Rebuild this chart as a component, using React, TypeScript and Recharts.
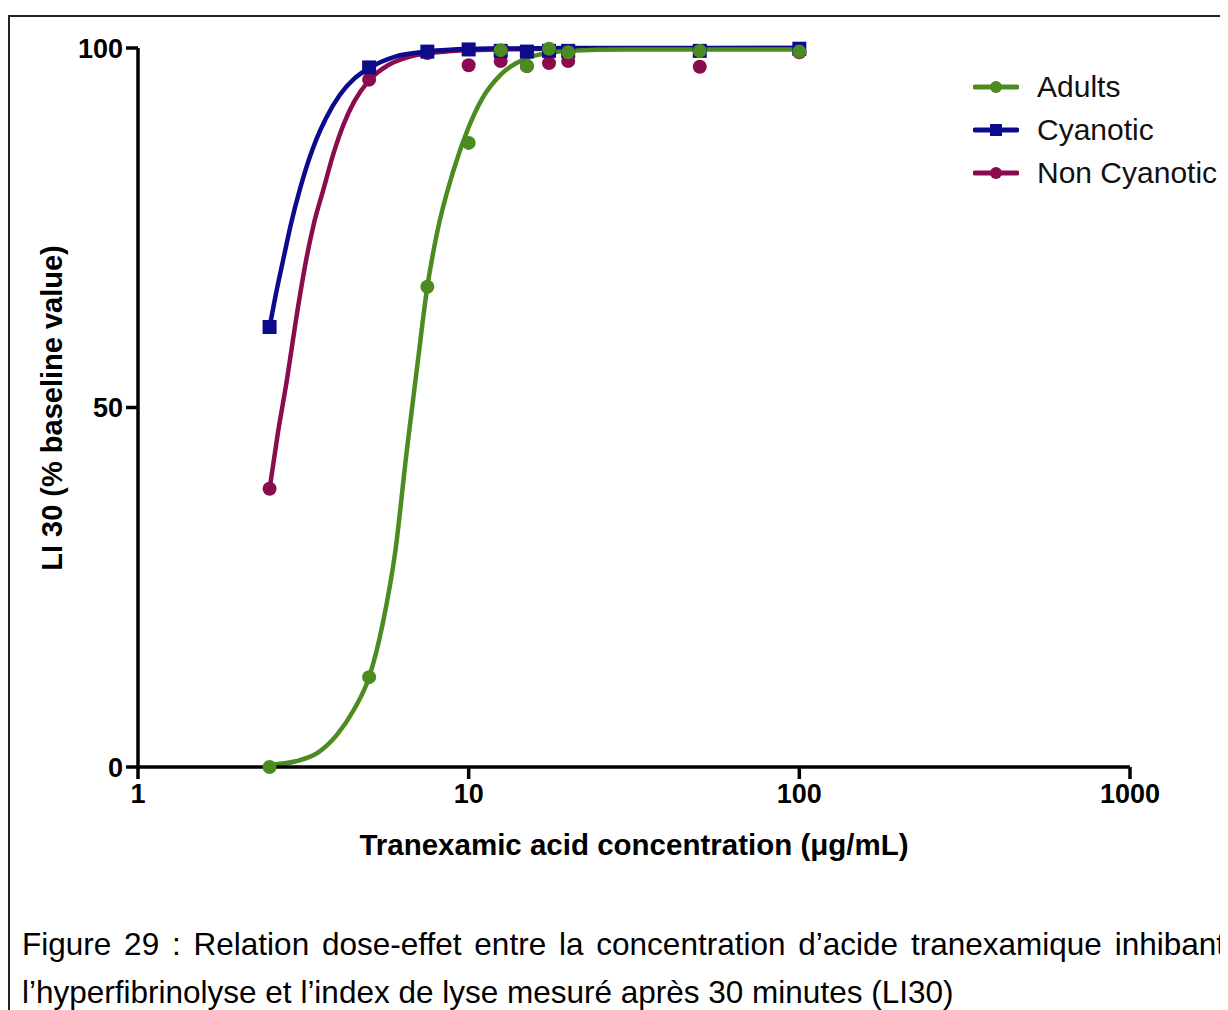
import React from 'react';
import { ComposedChart, Line, Scatter, XAxis, YAxis } from 'recharts';

if (typeof document !== 'undefined') {
  document.body.style.overflow = 'hidden';
}

const FONT = '"Liberation Sans", Arial, Helvetica, sans-serif';

const xTicks = [1, 10, 100, 1000];
const yTicks = [0, 50, 100];

// measured points (concentration in µg/mL, LI30 %)
const adultsPts = [
  { x: 2.5, y: 0 }, { x: 5, y: 12.5 }, { x: 7.5, y: 66.8 }, { x: 10, y: 86.8 },
  { x: 12.5, y: 99.7 }, { x: 15, y: 97.5 }, { x: 17.5, y: 99.9 }, { x: 20, y: 99.4 },
  { x: 50, y: 99.6 }, { x: 100, y: 99.5 },
];
const cyanoticPts = [
  { x: 2.5, y: 61.2 }, { x: 5, y: 97.3 }, { x: 7.5, y: 99.5 }, { x: 10, y: 99.8 },
  { x: 12.5, y: 99.6 }, { x: 15, y: 99.5 }, { x: 17.5, y: 99.6 }, { x: 20, y: 99.6 },
  { x: 50, y: 99.6 }, { x: 100, y: 99.9 },
];
const nonCyanoticPts = [
  { x: 2.5, y: 38.7 }, { x: 5, y: 95.6 }, { x: 7.5, y: 99.3 }, { x: 10, y: 97.6 },
  { x: 12.5, y: 98.2 }, { x: 15, y: 97.5 }, { x: 17.5, y: 97.9 }, { x: 20, y: 98.2 },
  { x: 50, y: 97.4 }, { x: 100, y: 99.4 },
];

// fitted curves
const adultsFit = [
  { x: 2.5, y: 0.3 }, { x: 3, y: 0.8 }, { x: 3.5, y: 2 }, { x: 4, y: 4.5 }, { x: 4.5, y: 8 },
  { x: 5, y: 12.5 }, { x: 5.5, y: 20 }, { x: 6, y: 30 }, { x: 6.5, y: 44 }, { x: 7, y: 56 },
  { x: 7.5, y: 66.8 }, { x: 8, y: 74 }, { x: 9, y: 83 }, { x: 10, y: 89 }, { x: 11, y: 93 },
  { x: 12.5, y: 96.3 }, { x: 15, y: 98.6 }, { x: 17.5, y: 99.3 }, { x: 20, y: 99.6 },
  { x: 30, y: 99.8 }, { x: 50, y: 99.8 }, { x: 100, y: 99.8 },
];
const cyanoticFit = [
  { x: 2.5, y: 61.2 }, { x: 2.6, y: 65.3 }, { x: 2.75, y: 70.6 }, { x: 2.9, y: 75.5 },
  { x: 3.09, y: 80.4 }, { x: 3.3, y: 84.7 }, { x: 3.47, y: 87.4 }, { x: 3.7, y: 90.2 },
  { x: 4.08, y: 93.5 }, { x: 4.5, y: 95.7 }, { x: 5, y: 97.2 }, { x: 6, y: 98.8 },
  { x: 7.5, y: 99.5 }, { x: 10, y: 99.85 }, { x: 20, y: 100 }, { x: 50, y: 100 }, { x: 100, y: 100 },
];
const nonCyanoticFit = [
  { x: 2.5, y: 38.7 }, { x: 2.65, y: 46.5 }, { x: 2.82, y: 53.8 }, { x: 3, y: 62 },
  { x: 3.24, y: 71 }, { x: 3.4, y: 75.5 }, { x: 3.63, y: 80.2 }, { x: 3.9, y: 85.3 },
  { x: 4.18, y: 89.3 }, { x: 4.5, y: 92.5 }, { x: 5, y: 95.5 }, { x: 5.7, y: 97.6 },
  { x: 6.64, y: 98.8 }, { x: 8, y: 99.4 }, { x: 10, y: 99.7 }, { x: 20, y: 99.9 }, { x: 100, y: 100 },
];

const series = [
  { name: 'Adults', color: '#4b8b1f', marker: 'circle', pts: adultsPts, fit: adultsFit },
  { name: 'Cyanotic', color: '#0b0b8c', marker: 'square', pts: cyanoticPts, fit: cyanoticFit },
  { name: 'Non Cyanotic', color: '#8a0c4e', marker: 'circle', pts: nonCyanoticPts, fit: nonCyanoticFit },
];
// back to front
const drawOrder = [2, 1, 0];

const marker = (kind: string, color: string, cx: number, cy: number, s = 7) =>
  kind === 'square'
    ? <rect x={cx - s} y={cy - s} width={s * 2} height={s * 2} fill={color} />
    : <circle cx={cx} cy={cy} r={s} fill={color} />;

const LegendBox = () => (
  <div style={{ position: 'absolute', left: 965, top: 57, display: 'flex', flexDirection: 'column', fontFamily: FONT }}>
    {series.map((s) => (
      <div key={s.name} style={{ height: 43, display: 'flex', alignItems: 'center', whiteSpace: 'nowrap' }}>
        <svg width={46} height={20}>
          <line x1={2} y1={10} x2={44} y2={10} stroke={s.color} strokeWidth={5} strokeLinecap="round" />
          {marker(s.marker, s.color, 23, 10, 6)}
        </svg>
        <span style={{ marginLeft: 18, fontSize: 30, color: '#111' }}>{s.name}</span>
      </div>
    ))}
  </div>
);

export default function App() {
  const axisStroke = { stroke: '#000', strokeWidth: 3.5 };
  const tickStyle = { fill: '#000', fontSize: 27, fontWeight: 700, fontFamily: FONT };
  return (
    <div style={{ position: 'relative', width: 1220, height: 1002, background: '#fff' }}>
      <div style={{ position: 'absolute', left: 0, top: 7, right: 0, bottom: -20, borderLeft: '2px solid #222', borderTop: '2px solid #222' }} />
      <ComposedChart
        width={1220}
        height={880}
        margin={{ top: 40, right: 98, bottom: 0, left: 0 }}
        style={{ position: 'absolute', left: 0, top: 0 }}
      >
        <XAxis
          dataKey="x"
          type="number"
          scale="log"
          domain={[1, 1000]}
          ticks={xTicks}
          allowDataOverflow
          height={121}
          axisLine={axisStroke}
          tickLine={axisStroke}
          tickSize={12}
          tickMargin={5}
          tick={tickStyle}
        />
        <YAxis
          dataKey="y"
          type="number"
          domain={[0, 100]}
          ticks={yTicks}
          width={130}
          axisLine={axisStroke}
          tickLine={axisStroke}
          tickSize={12}
          tickMargin={3}
          tick={tickStyle}
        />
        {drawOrder.map((i) => (
          <Line
            key={'fit' + i}
            data={series[i].fit}
            dataKey="y"
            type="monotone"
            stroke={series[i].color}
            strokeWidth={4.5}
            dot={false}
            activeDot={false}
            isAnimationActive={false}
          />
        ))}
        {drawOrder.map((i) => (
          <Scatter
            key={'pts' + i}
            data={series[i].pts}
            dataKey="y"
            isAnimationActive={false}
            shape={(p: any) => marker(series[i].marker, series[i].color, p.cx, p.cy)}
          />
        ))}
      </ComposedChart>
      <LegendBox />
      <div
        style={{
          position: 'absolute', left: 44, top: 400, transform: 'translate(-50%, -50%) rotate(-90deg)',
          whiteSpace: 'nowrap', fontFamily: FONT, fontWeight: 700, fontSize: 29, color: '#000',
        }}
      >
        LI 30 (% baseline value)
      </div>
      <div
        style={{
          position: 'absolute', left: 626, top: 837, transform: 'translate(-50%, -50%)',
          whiteSpace: 'nowrap', fontFamily: FONT, fontWeight: 700, fontSize: 29.5, color: '#000',
        }}
      >
        Tranexamic acid concentration (μg/mL)
      </div>
      <div
        style={{
          position: 'absolute', left: 14, top: 918, width: 1203, fontFamily: FONT, fontSize: 31.5,
          lineHeight: '36px', textAlign: 'justify', textAlignLast: 'justify', color: '#000', whiteSpace: 'nowrap',
        }}
      >
        Figure 29 : Relation dose-effet entre la concentration d’acide tranexamique inhibant
      </div>
      <div
        style={{
          position: 'absolute', left: 14, top: 966, whiteSpace: 'nowrap', fontFamily: FONT, fontSize: 31.5,
          lineHeight: '36px', color: '#000',
        }}
      >
        l’hyperfibrinolyse et l’index de lyse mesuré après 30 minutes (LI30)
      </div>
    </div>
  );
}
